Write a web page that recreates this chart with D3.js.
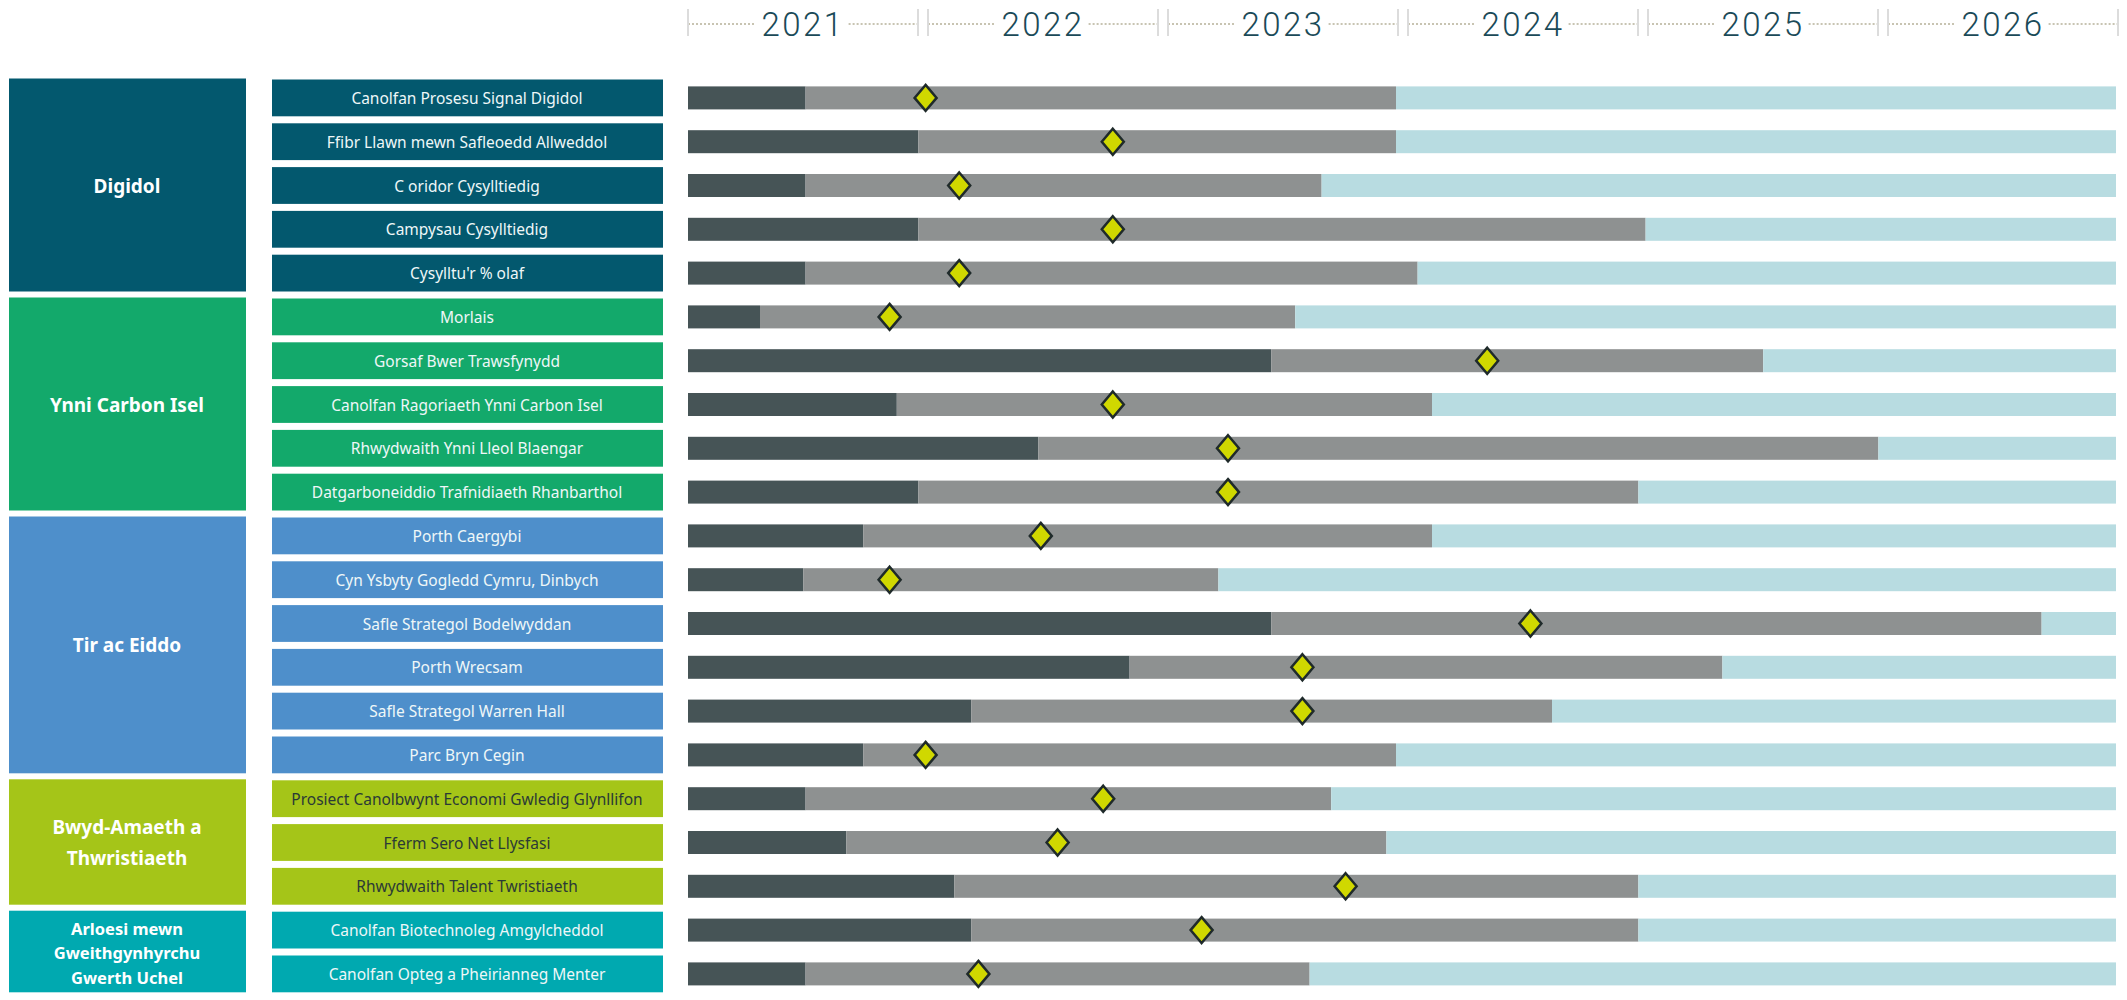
<!DOCTYPE html>
<html lang="cy">
<head>
<meta charset="UTF-8">
<title>Amserlen prosiectau</title>
<script src="https://cdn.jsdelivr.net/npm/d3@7/dist/d3.min.js"></script>
<style>
  body { margin: 0; background: #fff; }
  svg { display: block; }
</style>
</head>
<body>
<svg width="2127" height="1000"></svg>
<script>
// data
var years = [2021, 2022, 2023, 2024, 2025, 2026];
var groupLabels = [["Digidol"], ["Ynni Carbon Isel"], ["Tir ac Eiddo"],
    ["Bwyd-Amaeth a", "Thwristiaeth"], ["Arloesi mewn", "Gweithgynhyrchu", "Gwerth Uchel"]];
var groupSizes = [5, 5, 6, 3, 2];
var projects = [
    "Canolfan Prosesu Signal Digidol",
    "Ffibr Llawn mewn Safleoedd Allweddol",
    "C oridor Cysylltiedig",
    "Campysau Cysylltiedig",
    "Cysylltu'r % olaf",
    "Morlais",
    "Gorsaf Bwer Trawsfynydd",
    "Canolfan Ragoriaeth Ynni Carbon Isel",
    "Rhwydwaith Ynni Lleol Blaengar",
    "Datgarboneiddio Trafnidiaeth Rhanbarthol",
    "Porth Caergybi",
    "Cyn Ysbyty Gogledd Cymru, Dinbych",
    "Safle Strategol Bodelwyddan",
    "Porth Wrecsam",
    "Safle Strategol Warren Hall",
    "Parc Bryn Cegin",
    "Prosiect Canolbwynt Economi Gwledig Glynllifon",
    "Fferm Sero Net Llysfasi",
    "Rhwydwaith Talent Twristiaeth",
    "Canolfan Biotechnoleg Amgylcheddol",
    "Canolfan Opteg a Pheirianneg Menter"
];
// decimal years
var startYear = 2021;
var firstPhaseEnd = [2021.49, 2021.96, 2021.49, 2021.96, 2021.49, 2021.30, 2023.43, 2021.87, 2022.46, 2021.96,
    2021.73, 2021.48, 2023.43, 2022.84, 2022.18, 2021.73, 2021.49, 2021.66, 2022.11, 2022.18, 2021.49];
var deliveryEnd = [2023.95, 2023.95, 2023.64, 2024.99, 2024.04, 2023.53, 2025.48, 2024.10, 2025.96, 2024.96,
    2024.10, 2023.21, 2026.64, 2025.31, 2024.60, 2023.95, 2023.68, 2023.91, 2024.96, 2024.96, 2023.59];
var milestone = [2021.99, 2022.77, 2022.13, 2022.77, 2022.13, 2021.84, 2024.33, 2022.77, 2023.25, 2023.25,
    2022.47, 2021.84, 2024.51, 2023.56, 2023.56, 2021.99, 2022.73, 2022.54, 2023.74, 2023.14, 2022.21];
var timelineEnd = 2026.95;

// styles
var groupColors = ["#03586e", "#13a96b", "#4e8fcb", "#a5c518", "#00a9b0"];
var groupText = ["#eef7f8", "#eef7f8", "#eef7f8", "#2b3a36", "#eef7f8"];
var phaseColors = ["#465456", "#8e9191", "#b8dce1"];

var svg = d3.select("svg");
var font = "'Noto Sans', sans-serif";

var pitch = 43.8, top0 = 79.5;
var x = d3.scaleLinear().domain([2021, 2027]).range([688, 2128]);
var y = d3.scaleBand().domain(d3.range(projects.length))
    .range([top0, top0 + projects.length * pitch - 7]).paddingInner(7 / pitch);
var bh = y.bandwidth();

// group index of each project
var groupOf = [];
groupSizes.forEach(function(n, g) { for (var k = 0; k < n; k++) groupOf.push(g); });

// year header
var head = svg.append("g");
years.forEach(function(yr) {
    var s = x(yr), e = x(yr) + 230, mid = (s + e) / 2;
    var t = head.append("text")
        .attr("x", mid).attr("y", 36)
        .attr("text-anchor", "middle")
        .style("font-family", "'Roboto', sans-serif")
        .style("font-weight", 300)
        .style("font-size", "33px")
        .style("letter-spacing", "2.5px")
        .attr("fill", "#1a4a58")
        .text(yr);
    var w = t.node().getComputedTextLength();
    head.append("line").attr("x1", s).attr("x2", mid - w / 2 - 6).attr("y1", 24).attr("y2", 24)
        .attr("stroke", "#c8c4b2").attr("stroke-width", 2).attr("stroke-dasharray", "2,2");
    head.append("line").attr("x1", mid + w / 2 + 4).attr("x2", e).attr("y1", 24).attr("y2", 24)
        .attr("stroke", "#c8c4b2").attr("stroke-width", 2).attr("stroke-dasharray", "2,2");
    [s, e].forEach(function(px) {
        head.append("line").attr("x1", px).attr("x2", px).attr("y1", 9).attr("y2", 36)
            .attr("stroke", "#dcdcdc").attr("stroke-width", 2);
    });
});

// group boxes
var first = 0;
groupSizes.forEach(function(n, g) {
    var top = y(first), bottom = y(first + n - 1) + bh;
    svg.append("rect").attr("x", 9).attr("y", top - 1).attr("width", 237).attr("height", bottom - top + 1)
        .attr("fill", groupColors[g]);
    var lines = groupLabels[g];
    var fs = lines.length > 2 ? 16.5 : 19;
    var lh = lines.length > 2 ? 24.5 : 31;
    var cy = (top + bottom) / 2;
    svg.append("text")
        .attr("x", 127).attr("y", cy - (lines.length - 1) * lh / 2)
        .attr("text-anchor", "middle").attr("dominant-baseline", "central")
        .style("font-family", font).style("font-weight", 700).style("font-size", fs + "px")
        .attr("fill", "#ffffff")
        .selectAll("tspan").data(lines).enter().append("tspan")
        .attr("x", 127).attr("dy", function(d, i) { return i ? lh : 0; })
        .text(function(d) { return d; });
    first += n;
});

// project label boxes
var rows = svg.append("g").selectAll("g").data(projects).enter().append("g");
rows.append("rect")
    .attr("x", 272).attr("y", function(d, i) { return y(i); })
    .attr("width", 391).attr("height", bh)
    .attr("fill", function(d, i) { return groupColors[groupOf[i]]; });
rows.append("text")
    .attr("x", 467).attr("y", function(d, i) { return y(i) + bh / 2; })
    .attr("text-anchor", "middle").attr("dominant-baseline", "central")
    .style("font-family", font).style("font-size", "15.5px")
    .attr("fill", function(d, i) { return groupText[groupOf[i]]; })
    .text(function(d) { return d; });

// bars
var barH = 23;
var bars = svg.append("g");
projects.forEach(function(p, i) {
    var cy = y(i) + bh / 2;
    var segs = [[startYear, firstPhaseEnd[i]], [firstPhaseEnd[i], deliveryEnd[i]], [deliveryEnd[i], timelineEnd]];
    bars.selectAll(null).data(segs).enter().append("rect")
        .attr("x", function(d) { return x(d[0]); })
        .attr("y", cy - barH / 2)
        .attr("width", function(d) { return Math.max(0, x(d[1]) - x(d[0])); })
        .attr("height", barH)
        .attr("fill", function(d, k) { return phaseColors[k]; });
});

// milestone diamonds
svg.append("g").selectAll("path").data(milestone).enter().append("path")
    .attr("d", function(d, i) {
        var cx = x(d), cy = y(i) + bh / 2;
        return "M" + cx + "," + (cy - 13) + "L" + (cx + 11) + "," + cy + "L" + cx + "," + (cy + 13) +
            "L" + (cx - 11) + "," + cy + "Z";
    })
    .attr("fill", "#d0d800")
    .attr("stroke", "#1f2a2a")
    .attr("stroke-width", 2.5);
</script>
</body>
</html>
